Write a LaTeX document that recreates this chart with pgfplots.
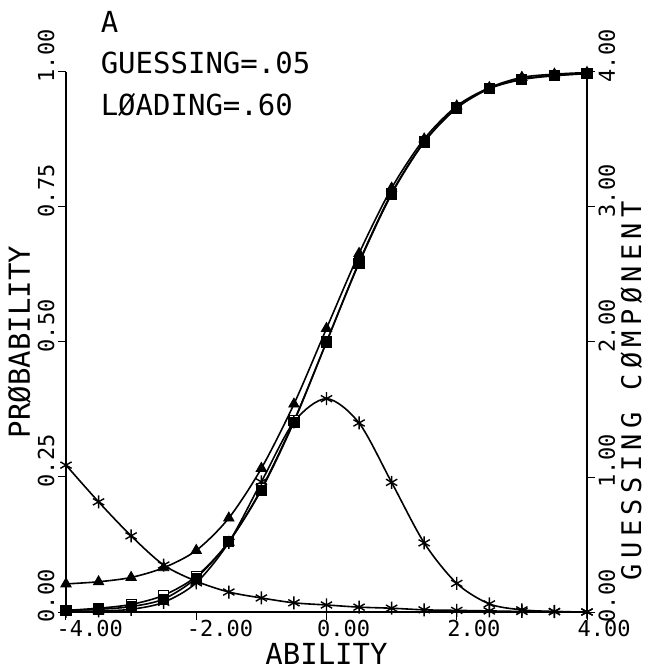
\documentclass[border=0pt]{standalone}
\usepackage{fontspec}
\setmainfont{DejaVu Sans}
\newfontfamily\plotfont{DejaVu Sans Mono}
\newfontfamily\plotfontwide[LetterSpace=20]{DejaVu Sans Mono}
\usepackage{pgfplots}
\usepackage{pgfplotstable}
\pgfplotsset{compat=1.18}

% ability points
\pgfplotstableread{
x     tri    osq    fsq    bell
-4.0  0.052  0.003  0.003  0.001
-3.5  0.056  0.007  0.005  0.002
-3.0  0.064  0.014  0.010  0.005
-2.5  0.082  0.031  0.024  0.018
-2.0  0.114  0.066  0.063  0.054
-1.5  0.174  0.130  0.130  0.129
-1.0  0.266  0.228  0.226  0.241
-0.5  0.385  0.354  0.352  0.352
 0.0  0.525  0.500  0.500  0.395
 0.5  0.664  0.646  0.648  0.350
 1.0  0.785  0.774  0.776  0.240
 1.5  0.876  0.870  0.871  0.128
 2.0  0.937  0.933  0.934  0.053
 2.5  0.971  0.969  0.970  0.015
 3.0  0.990  0.986  0.987  0.004
 3.5  0.996  0.993  0.994  0.001
 4.0  0.999  0.997  0.997  0.000
}\probtable

% guessing component (right axis)
\pgfplotstableread{
x     g
-4.0  1.088
-3.5  0.816
-3.0  0.564
-2.5  0.348
-2.0  0.228
-1.5  0.148
-1.0  0.104
-0.5  0.068
 0.0  0.052
 0.5  0.036
 1.0  0.028
 1.5  0.016
 2.0  0.012
 2.5  0.008
 3.0  0.004
 3.5  0.002
 4.0  0.000
}\guesstable

\newcommand\tickfont{\plotfont\fontsize{22}{22}\selectfont}
\newcommand\labfont{\plotfont\fontsize{29}{29}\selectfont}

\begin{document}
\begin{tikzpicture}
\useasboundingbox (-66pt,-60pt) rectangle (581pt,612pt);
\begin{axis}[
  at={(0pt,0pt)}, anchor=south west,
  scale only axis, width=521pt, height=540pt,
  xmin=-4, xmax=4, ymin=0, ymax=1,
  axis x line*=bottom, axis y line*=left,
  axis line style={-, line width=1.2pt},
  xtick={-4,-2,0,2,4}, xticklabels={-4.00,-2.00,0.00,2.00,4.00},
  ytick={0,0.25,0.5,0.75,1}, yticklabels={0.00,0.25,0.50,0.75,1.00},
  tick align=outside, major tick length=8pt,
  tick style={black, line width=1pt},
  xticklabel style={font=\tickfont, anchor=north west, xshift=-13pt, yshift=3pt},
  yticklabel style={font=\tickfont, yshift=-14pt, rotate=90, anchor=south west},
  xlabel={ABILITY}, ylabel={PRØBABILITY},
  xlabel style={font=\labfont, yshift=1pt},
  ylabel style={font=\labfont},
  clip=false,
  every axis plot/.append style={black, line width=1.6pt, smooth},
]
\addplot[mark=triangle*, mark size=6pt, mark options={fill=black, line width=0.8pt}] table[x=x, y=tri] {\probtable};
\addplot[mark=square*, mark size=5pt, mark options={fill=white, line width=1.2pt}] table[x=x, y=osq] {\probtable};
\addplot[mark=square*, mark size=5pt, mark options={fill=black, line width=0.8pt}] table[x=x, y=fsq] {\probtable};
\addplot[mark=asterisk, mark size=6.5pt, mark options={line width=1.4pt}] table[x=x, y=bell] {\probtable};
\node[anchor=base west, font=\labfont] at (axis cs:-3.52,1.074) {A};
\node[anchor=base west, font=\labfont] at (axis cs:-3.52,0.998) {GUESSING=.05};
\node[anchor=base west, font=\labfont] at (axis cs:-3.52,0.920) {LØADING=.60};
\end{axis}
\begin{axis}[
  at={(0pt,0pt)}, anchor=south west,
  scale only axis, width=521pt, height=540pt,
  xmin=-4, xmax=4, ymin=0, ymax=4,
  axis x line=none, axis y line*=right,
  axis line style={-, line width=1.2pt},
  ytick={0,1,2,3,4}, yticklabels={0.00,1.00,2.00,3.00,4.00},
  tick align=outside, major tick length=8pt,
  tick style={black, line width=1pt},
  yticklabel style={font=\tickfont, xshift=0pt, yshift=-14pt, rotate=90, anchor=north west},
  clip=false,
]
\addplot[black, line width=1.6pt, smooth, mark=asterisk, mark size=6.5pt, mark options={line width=1.4pt}] table[x=x, y=g] {\guesstable};
\node[rotate=90, anchor=north, inner sep=0pt, font=\plotfontwide\fontsize{27}{27}\selectfont] at (axis description cs:1.064,0.41) {GUESSING CØMPØNENT};
\end{axis}
\end{tikzpicture}
\end{document}
